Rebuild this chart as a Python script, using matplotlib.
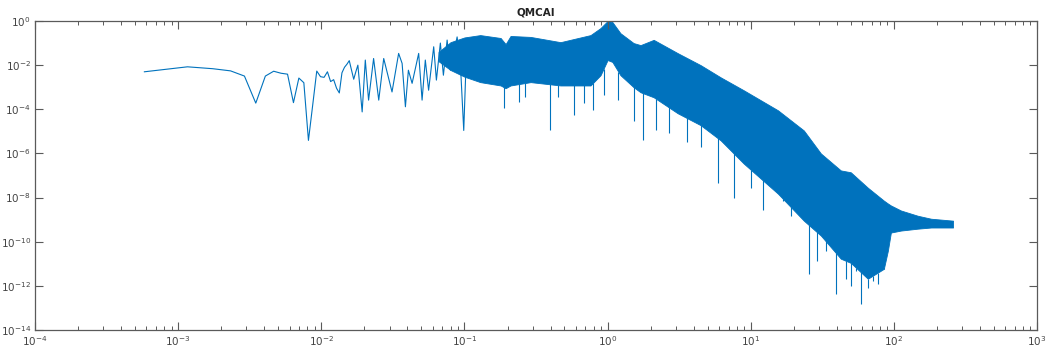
import matplotlib
matplotlib.use('Agg')
import matplotlib.pyplot as plt
import numpy as np

# lowest bins of the spectrum (bin spacing read from the first points)
df = 5.81e-4
low_bins = np.arange(1, 32)
low_vals = [5.0e-3, 8.4e-3, 6.9e-3, 5.5e-3, 3.2e-3, 1.9e-4, 3.2e-3, 5.3e-3,
            4.3e-3, 3.9e-3, 2.0e-4, 2.6e-3, 1.6e-3, 3.9e-6, 1.6e-4, 5.4e-3,
            3.0e-3, 2.8e-3, 5.0e-3, 1.8e-3, 2.2e-3, 9.0e-4, 5.5e-4, 4.5e-3,
            8.0e-3, 1.1e-2, 1.6e-2, 5.9e-3, 2.3e-3, 5.0e-3, 1.0e-2]

# next stretch, still readable as a single line
mid_f = [0.0193, 0.0203, 0.0214, 0.0232, 0.0252, 0.0273, 0.0312, 0.0347,
         0.0367, 0.0387, 0.0406, 0.0431, 0.0479, 0.0506, 0.0533, 0.0562,
         0.061, 0.0637, 0.0679, 0.0713, 0.0757, 0.0798, 0.0889, 0.0938,
         0.0989, 0.104]
mid_vals = [7.6e-5, 1.7e-2, 2.6e-4, 2.0e-2, 2.6e-4, 2.0e-2, 6.1e-4, 3.4e-2,
            1.2e-2, 1.3e-4, 5.9e-3, 1.5e-3, 3.4e-2, 2.6e-4, 1.7e-2, 7.3e-4,
            6.8e-2, 2.1e-3, 0.1, 3.5e-3, 0.137, 5.9e-3, 0.19, 1.0e-2,
            1.1e-5, 0.137]

# dense part: upper edge and lower edge of the solid band
band_f = [0.066, 0.08, 0.1, 0.129, 0.179, 0.194, 0.21, 0.29, 0.469, 0.76,
          0.893, 1.0, 1.08, 1.23, 1.52, 1.70, 2.10, 3.09, 4.47, 6.17, 8.93,
          15.5, 23.5, 30.9, 42.6, 50.0, 65.8, 85.1, 90.8, 95.3, 112, 147,
          182, 259]
band_hi = [4.0e-2, 0.11, 0.18, 0.23, 0.17, 9.0e-2, 0.21, 0.19, 0.11, 0.23,
           0.48, 1.0, 0.9, 0.28, 0.1, 8.1e-2, 0.14, 3.5e-2, 1e-2, 2.8e-3,
           7.3e-4, 9e-5, 1.1e-5, 1e-6, 1.7e-7, 1.4e-7, 2.8e-8, 7.3e-9,
           5.4e-9, 4.4e-9, 2.6e-9, 1.5e-9, 1.1e-9, 9e-10]
band_lo = [1.5e-2, 6.0e-3, 3.0e-3, 1.7e-3, 1.2e-3, 9e-4, 1.2e-3, 1.7e-3,
           1.2e-3, 1.2e-3, 3.5e-3, 1.7e-2, 1.4e-2, 3.5e-3, 1e-3, 5.9e-4,
           3.5e-4, 6.6e-5, 1.9e-5, 3.9e-6, 3.5e-7, 1.5e-8, 9e-10, 1.9e-10,
           1.7e-11, 1.1e-11, 2.1e-12, 5.9e-12, 3.9e-11, 2.6e-10, 3.2e-10,
           3.9e-10, 4.4e-10, 4.4e-10]

# deep single dips below the band
dip_f = [0.188, 0.239, 0.267, 0.399, 0.454, 0.587, 0.679, 0.785, 0.938, 1.19,
         1.52, 1.76, 2.17, 2.67, 3.57, 4.47, 5.87, 7.60, 10.0, 12.1, 16.7,
         19.1, 25.5, 29.0, 33.4, 39.3, 46.1, 50.0, 54.2, 58.7, 65.8, 71.3,
         77.3, 85.1]
dip_vals = [1.1e-4, 2.1e-4, 3.5e-4, 1.1e-5, 3.5e-4, 5.4e-5, 1.9e-4, 9e-5,
            4.4e-4, 2.6e-4, 2.8e-5, 3.9e-6, 1.1e-5, 8.1e-6, 3.2e-6, 1.9e-6,
            4.4e-8, 1e-8, 2.8e-8, 2.6e-9, 7.3e-9, 1.5e-9, 3.5e-12, 1.4e-11,
            3.9e-11, 4.4e-13, 2.1e-12, 1e-12, 4.8e-12, 1.5e-13, 8.1e-13,
            1.7e-12, 1.2e-12, 6.6e-12]

blue = '#0072BD'
grey = '#5a5a5a'

fig = plt.figure(figsize=(10.47, 3.51), dpi=100)
ax = fig.add_axes([35/1047, 21/351, 1002/1047, 309/351])

line_f = np.concatenate([low_bins*df, mid_f])
line_v = np.concatenate([low_vals, mid_vals])
ax.plot(line_f, line_v, color=blue, lw=0.8)

ax.fill_between(band_f, band_lo, band_hi, color=blue, lw=0.6, edgecolor=blue)

# dips start from the lower band edge
lo_at = 10**np.interp(np.log10(dip_f), np.log10(band_f), np.log10(band_lo))
ax.vlines(dip_f, dip_vals, lo_at, color=blue, lw=0.8)

ax.set_xscale('log')
ax.set_yscale('log')
ax.set_xlim(1e-4, 1e3)
ax.set_ylim(1e-14, 1e0)

xt = [10.0**e for e in range(-4, 4)]
ax.set_xticks(xt)
ax.set_xticklabels(['$10^{%d}$' % e for e in range(-4, 4)])
yt = [10.0**e for e in range(-14, 1, 2)]
ax.set_yticks(yt)
ax.set_yticklabels(['$10^{%d}$' % e for e in range(-14, 1, 2)])
ax.yaxis.set_minor_locator(matplotlib.ticker.NullLocator())
ax.xaxis.set_minor_locator(matplotlib.ticker.LogLocator(base=10, subs=np.arange(2, 10), numticks=20))

ax.tick_params(which='both', direction='in', top=True, right=True,
               color=grey, labelcolor='#444444', labelsize=7.5)
ax.tick_params(which='major', length=5.5, width=0.8, pad=3)
ax.tick_params(which='minor', length=3.2, width=0.7)
for s in ax.spines.values():
    s.set_color(grey)
    s.set_linewidth(0.9)

ax.set_title('QMCAI', fontsize=7.5, fontweight='bold', pad=4, color='#222222')

fig.savefig('out.png', dpi=100)
